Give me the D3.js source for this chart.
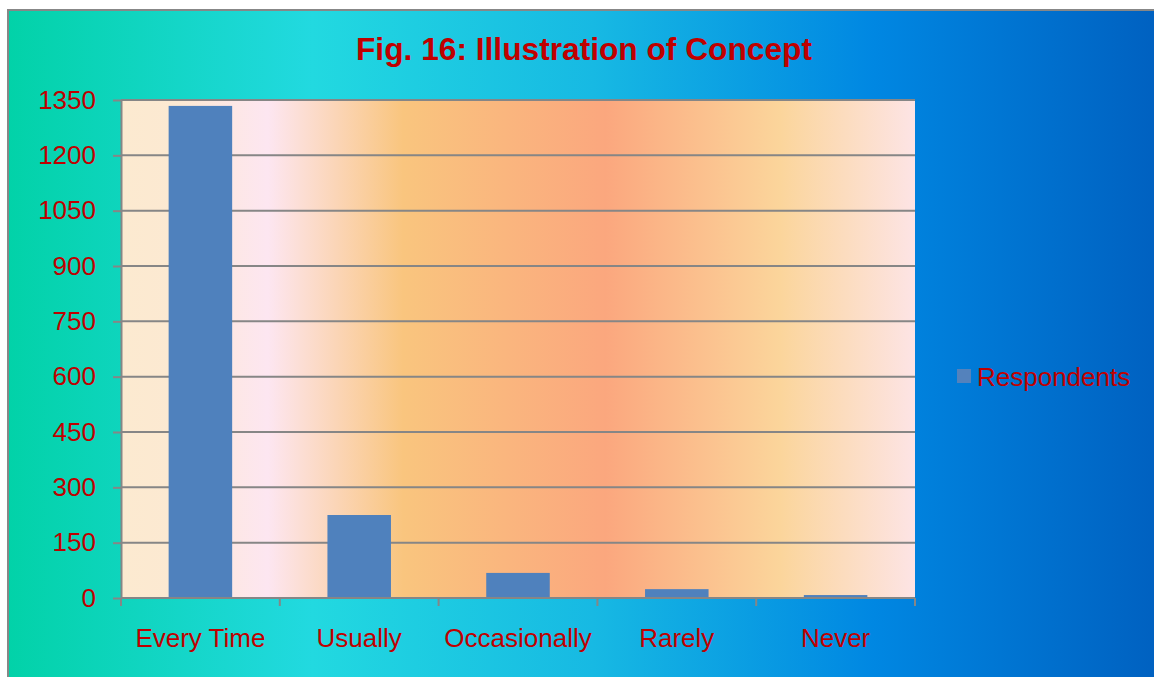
<!DOCTYPE html>
<html>
<head>
<meta charset="utf-8">
<script src="https://cdn.jsdelivr.net/npm/d3@7"></script>
<style>
  html, body { margin: 0; padding: 0; background: #ffffff; overflow: hidden; }
  svg { display: block; font-family: "Liberation Sans", Arial, sans-serif; }
</style>
</head>
<body>
<svg id="chart" width="1154" height="677"></svg>
<script>
const categories = ["Every Time", "Usually", "Occasionally", "Rarely", "Never"];
const respondents = [1334, 225, 68, 24, 8];
const yTicks = [0, 150, 300, 450, 600, 750, 900, 1050, 1200, 1350];
const seriesName = "Respondents";
const titleText = "Fig. 16: Illustration of Concept";

const svg = d3.select("#chart");
const defs = svg.append("defs");

const bgGrad = defs.append("linearGradient").attr("id", "bgGrad")
  .attr("x1", "0%").attr("x2", "100%").attr("y1", "0%").attr("y2", "0%");
[[0, "#02D2A8"], [0.26, "#22D9E0"], [0.5, "#17B9E3"], [0.74, "#0087E2"], [1, "#005EBE"]]
  .forEach(([o, c]) => bgGrad.append("stop").attr("offset", o).attr("stop-color", c));

const plotGrad = defs.append("linearGradient").attr("id", "plotGrad")
  .attr("x1", "0%").attr("x2", "100%").attr("y1", "0%").attr("y2", "0%");
[[0, "#FCEAD0"], [0.07, "#FCE9D2"], [0.185, "#FDE6F1"], [0.355, "#F9C57E"], [0.61, "#FBA77E"], [0.83, "#FBD59B"], [1, "#FDE4E5"]]
  .forEach(([o, c]) => plotGrad.append("stop").attr("offset", o).attr("stop-color", c));

// outer chart area
svg.append("rect").attr("x", 8).attr("y", 10).attr("width", 1170).attr("height", 700)
  .attr("fill", "url(#bgGrad)").attr("stroke", "#878787").attr("stroke-width", 2);

const margin = { left: 121, top: 100, right: 915, bottom: 598 };

const x = d3.scaleBand().domain(categories).range([margin.left, margin.right]).paddingInner(0.6).paddingOuter(0.3);
const y = d3.scaleLinear().domain([0, 1350]).range([margin.bottom, margin.top]);

// plot area background
svg.append("rect").attr("x", margin.left).attr("y", margin.top)
  .attr("width", margin.right - margin.left).attr("height", margin.bottom - margin.top)
  .attr("fill", "url(#plotGrad)");

// gridlines
svg.append("g").selectAll("line").data(yTicks.filter(d => d > 0)).join("line")
  .attr("x1", margin.left).attr("x2", margin.right)
  .attr("y1", d => y(d)).attr("y2", d => y(d))
  .attr("stroke", "#868686").attr("stroke-width", 2);

// bars
svg.append("g").selectAll("rect").data(categories).join("rect")
  .attr("x", d => x(d)).attr("width", x.bandwidth())
  .attr("y", (d, i) => y(respondents[i]))
  .attr("height", (d, i) => y(0) - y(respondents[i]))
  .attr("fill", "#4F81BD");

// y axis
const yAxis = d3.axisLeft(y).tickValues(yTicks).tickFormat(d3.format("d"))
  .tickSize(8).tickPadding(17).tickSizeOuter(0);
const gy = svg.append("g").attr("transform", `translate(${margin.left},0)`).call(yAxis);
gy.select(".domain").attr("stroke", "#868686").attr("stroke-width", 2);
gy.selectAll(".tick line").attr("stroke", "#868686").attr("stroke-width", 2);
gy.selectAll(".tick text").attr("fill", "#C00000").attr("font-size", 26)
  .attr("font-family", "Liberation Sans, Arial, sans-serif");

// x axis: ticks at category boundaries
const boundaries = d3.range(categories.length + 1).map(i => margin.left + i * x.step());
svg.append("line").attr("x1", margin.left).attr("x2", margin.right)
  .attr("y1", y(0)).attr("y2", y(0)).attr("stroke", "#868686").attr("stroke-width", 2);
svg.append("g").selectAll("line").data(boundaries).join("line")
  .attr("x1", d => d).attr("x2", d => d)
  .attr("y1", y(0)).attr("y2", y(0) + 8)
  .attr("stroke", "#868686").attr("stroke-width", 2);
svg.append("g").selectAll("text").data(categories).join("text")
  .attr("x", d => x(d) + x.bandwidth() / 2).attr("y", 647)
  .attr("text-anchor", "middle").attr("fill", "#C00000").attr("font-size", 26)
  .text(d => d);

// title
svg.append("text").attr("x", 584).attr("y", 60).attr("text-anchor", "middle")
  .attr("fill", "#C00000").attr("font-size", 31.7).attr("font-weight", "bold")
  .text(titleText);

// legend
svg.append("rect").attr("x", 957).attr("y", 369).attr("width", 14).attr("height", 14).attr("fill", "#5482BC");
svg.append("text").attr("x", 977).attr("y", 386).attr("fill", "#C00000").attr("font-size", 26).text(seriesName);
</script>
</body>
</html>
